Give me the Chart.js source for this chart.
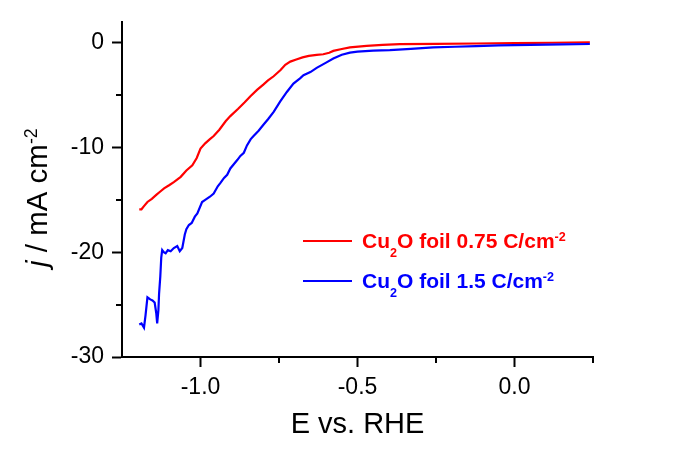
<!DOCTYPE html>
<html>
<head>
<meta charset="utf-8">
<script src="https://cdn.jsdelivr.net/npm/chart.js@4/dist/chart.umd.min.js"></script>
<style>
  html, body { margin: 0; padding: 0; background: #fff; }
  canvas { display: block; }
</style>
</head>
<body>
<canvas id="myChart" width="698" height="450"></canvas>
<script>
// values (E in V vs RHE, j in mA cm-2)
const redE = [-1.195, -1.188, -1.180, -1.169, -1.155, -1.140, -1.128, -1.116, -1.100, -1.085, -1.063, -1.045,
  -1.026, -1.012, -1.000, -0.985, -0.970, -0.958, -0.940, -0.920, -0.905, -0.880, -0.860, -0.841, -0.820,
  -0.800, -0.785, -0.767, -0.745, -0.730, -0.714, -0.695, -0.675, -0.655, -0.630, -0.609, -0.590, -0.577,
  -0.550, -0.524, -0.471, -0.420, -0.365, -0.250, -0.122, 0.000, 0.120, 0.240];
const redJ = [-15.9, -15.9, -15.6, -15.2, -14.9, -14.5, -14.2, -13.9, -13.6, -13.3, -12.8, -12.2,
  -11.7, -11.0, -10.1, -9.6, -9.2, -8.9, -8.3, -7.5, -7.0, -6.3, -5.7, -5.1, -4.5,
  -4.0, -3.6, -3.2, -2.6, -2.1, -1.8, -1.6, -1.4, -1.25, -1.15, -1.1, -0.95, -0.78,
  -0.6, -0.45, -0.3, -0.2, -0.13, -0.1, -0.07, -0.04, 0.0, 0.05];

const blueE = [-1.195, -1.188, -1.180, -1.175, -1.169, -1.160, -1.153, -1.146, -1.141, -1.138, -1.134, -1.132,
  -1.128, -1.125, -1.122, -1.117, -1.111, -1.104, -1.095, -1.085, -1.074, -1.066, -1.058, -1.050, -1.045,
  -1.037, -1.028, -1.018, -1.010, -0.995, -0.985, -0.970, -0.958, -0.945, -0.937, -0.925, -0.915, -0.905,
  -0.894, -0.883, -0.873, -0.862, -0.852, -0.840, -0.831, -0.815, -0.799, -0.785, -0.767, -0.746, -0.725,
  -0.704, -0.683, -0.672, -0.650, -0.630, -0.600, -0.577, -0.550, -0.524, -0.500, -0.450, -0.397, -0.330,
  -0.259, -0.190, -0.122, -0.050, 0.050, 0.150, 0.240];
const blueJ = [-26.9, -26.8, -27.2, -26.0, -24.3, -24.5, -24.6, -24.8, -25.8, -26.8, -25.5, -24.0,
  -22.3, -20.5, -19.8, -20.0, -20.1, -19.8, -19.9, -19.6, -19.4, -19.9, -19.6, -18.3, -17.8,
  -17.4, -17.2, -16.6, -16.3, -15.2, -15.0, -14.7, -14.4, -13.7, -13.4, -12.9, -12.6, -12.0,
  -11.6, -11.2, -10.8, -10.5, -9.8, -9.2, -8.9, -8.4, -7.8, -7.3, -6.6, -5.6, -4.7,
  -3.9, -3.4, -3.1, -2.8, -2.4, -1.9, -1.5, -1.15, -0.95, -0.85, -0.75, -0.7, -0.58,
  -0.45, -0.38, -0.32, -0.26, -0.2, -0.16, -0.12];

const xMajorTicks = [-1.0, -0.5, 0.0];
const xMinorTicks = [-0.75, -0.25, 0.25];
const yMajorTicks = [0, -10, -20, -30];
const yMinorTicks = [-5, -15, -25];

const redLabel = [{ t: 'Cu' }, { t: '2', sub: true }, { t: 'O foil 0.75 C/cm' }, { t: '-2', sup: true }];
const blueLabel = [{ t: 'Cu' }, { t: '2', sub: true }, { t: 'O foil 1.5 C/cm' }, { t: '-2', sup: true }];
const yTitle = [{ t: 'j', italic: true }, { t: ' / mA cm' }, { t: '-2', sup: true }];
const xTitle = 'E vs. RHE';

const FONT = '"Liberation Sans", Arial, sans-serif';
Chart.defaults.font.family = FONT;
Chart.defaults.color = '#000';

function toPoints(xs, ys) {
  return xs.map((x, i) => ({ x: x, y: ys[i] }));
}

// draws text with sub/superscript parts, returns the width
function drawRich(ctx, parts, x, y, size, weight, color) {
  let cx = x;
  parts.forEach(p => {
    let sz = size, dy = 0;
    if (p.sub) { sz = size * 0.6; dy = size * 0.45; }
    if (p.sup) { sz = size * 0.6; dy = -size * 0.34; }
    ctx.font = (p.italic ? 'italic ' : '') + weight + ' ' + sz + 'px ' + FONT;
    ctx.fillStyle = color;
    ctx.fillText(p.t, cx, y + dy);
    cx += ctx.measureText(p.t).width;
  });
  return cx - x;
}

const extras = {
  id: 'extras',
  afterDraw(chart) {
    const ctx = chart.ctx;
    const area = chart.chartArea;
    const xs = chart.scales.x, ys = chart.scales.y;
    ctx.save();
    ctx.strokeStyle = '#000';
    ctx.lineWidth = 2;
    // minor ticks
    xMinorTicks.forEach(v => {
      const px = Math.round(xs.getPixelForValue(v));
      ctx.beginPath();
      ctx.moveTo(px, area.bottom);
      ctx.lineTo(px, area.bottom + 6);
      ctx.stroke();
    });
    yMinorTicks.forEach(v => {
      const py = Math.round(ys.getPixelForValue(v));
      ctx.beginPath();
      ctx.moveTo(area.left - 6, py);
      ctx.lineTo(area.left, py);
      ctx.stroke();
    });

    // y title, rotated
    ctx.save();
    ctx.translate(47, 267);
    ctx.rotate(-Math.PI / 2);
    ctx.textBaseline = 'alphabetic';
    drawRich(ctx, yTitle, 0, 0, 29.5, 'normal', '#000');
    ctx.restore();

    // legend
    const items = [
      { parts: redLabel, color: chart.data.datasets[0].borderColor, y: 241 },
      { parts: blueLabel, color: chart.data.datasets[1].borderColor, y: 281 }
    ];
    ctx.textBaseline = 'alphabetic';
    items.forEach(it => {
      ctx.strokeStyle = it.color;
      ctx.lineWidth = 2;
      ctx.beginPath();
      ctx.moveTo(303, it.y);
      ctx.lineTo(352, it.y);
      ctx.stroke();
      drawRich(ctx, it.parts, 362, it.y + 7, 21, 'bold', it.color);
    });
    ctx.restore();
  }
};

const ctx1 = document.getElementById('myChart').getContext('2d');
const chart1 = new Chart(ctx1, {
  type: 'scatter',
  data: {
    datasets: [{
      label: 'Cu2O foil 0.75 C/cm-2',
      data: toPoints(redE, redJ),
      showLine: true,
      borderColor: '#ff0000',
      borderWidth: 2.2,
      pointRadius: 0,
      order: 1
    }, {
      label: 'Cu2O foil 1.5 C/cm-2',
      data: toPoints(blueE, blueJ),
      showLine: true,
      borderColor: '#0000ff',
      borderWidth: 2.2,
      pointRadius: 0,
      order: 0
    }]
  },
  options: {
    responsive: false,
    animation: false,
    layout: { padding: { top: 18, right: 105, left: 0, bottom: 0 } },
    plugins: {
      legend: { display: false },
      tooltip: { enabled: false }
    },
    scales: {
      x: {
        type: 'linear',
        min: -1.25,
        max: 0.25,
        afterBuildTicks: scale => { scale.ticks = xMajorTicks.map(v => ({ value: v })); },
        afterFit: scale => { scale.height = 93; },
        ticks: {
          font: { size: 23 },
          color: '#000',
          padding: 7,
          maxRotation: 0,
          callback: v => v.toFixed(1)
        },
        grid: {
          drawOnChartArea: false,
          drawTicks: true,
          tickLength: 10,
          tickWidth: 2,
          tickColor: '#000'
        },
        border: { display: true, color: '#000', width: 2 },
        title: {
          display: true,
          text: xTitle,
          font: { size: 29 },
          color: '#000',
          padding: { top: 0, bottom: 8 }
        }
      },
      y: {
        type: 'linear',
        min: -30,
        max: 2,
        afterBuildTicks: scale => { scale.ticks = yMajorTicks.map(v => ({ value: v })); },
        afterFit: scale => { scale.width = 122; },
        ticks: {
          font: { size: 23 },
          color: '#000',
          padding: 8,
          callback: v => String(v)
        },
        grid: {
          drawOnChartArea: false,
          drawTicks: true,
          tickLength: 10,
          tickWidth: 2,
          tickColor: '#000'
        },
        border: { display: true, color: '#000', width: 2 }
      }
    }
  },
  plugins: [extras]
});
</script>
</body>
</html>
